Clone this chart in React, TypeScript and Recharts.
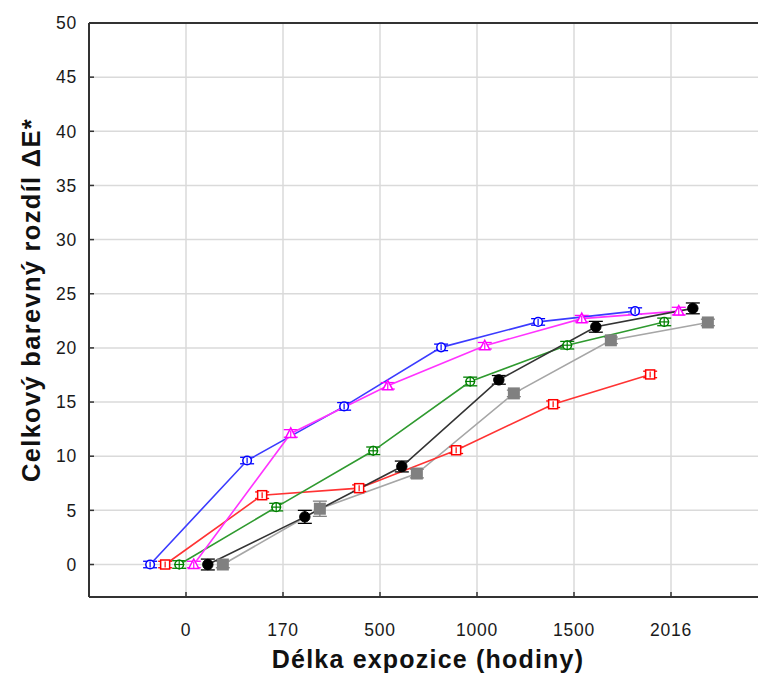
import React from 'react';
import { ComposedChart, Line, XAxis, YAxis, CartesianGrid, ErrorBar } from 'recharts';

const categories = ['0', '170', '500', '1000', '1500', '2016'];
const yTicks = [0, 5, 10, 15, 20, 25, 30, 35, 40, 45, 50];

const blueValues = [0, 9.6, 14.6, 20.05, 22.4, 23.4];
const blueErrors = [0.3, 0.3, 0.35, 0.3, 0.3, 0.3];
const redValues = [0, 6.4, 7.05, 10.55, 14.8, 17.55];
const redErrors = [0.3, 0.3, 0.3, 0.3, 0.3, 0.3];
const greenValues = [0, 5.3, 10.5, 16.9, 20.25, 22.4];
const greenErrors = [0.35, 0.35, 0.35, 0.4, 0.35, 0.35];
const magentaValues = [0, 12.1, 16.5, 20.2, 22.7, 23.4];
const magentaErrors = [0.3, 0.35, 0.3, 0.3, 0.3, 0.35];
const blackValues = [0, 4.4, 9.05, 17.05, 21.95, 23.65];
const blackErrors = [0.5, 0.6, 0.5, 0.4, 0.5, 0.5];
const grayValues = [0, 5.15, 8.4, 15.8, 20.7, 22.35];
const grayErrors = [0.3, 0.7, 0.4, 0.3, 0.3, 0.3];

const FONT = '"Liberation Sans", Arial, sans-serif';

const build = (values: number[], errs: number[], offset: number) =>
  values.map((v, i) => ({ x: i + offset, y: v, err: errs[i] }));

type Kind = 'circle' | 'square' | 'cross' | 'triangle' | 'filledCircle' | 'filledSquare';

const makeDot = (kind: Kind, color: string, name: string) => (props: any) => {
  const { cx, cy, index } = props;
  if (cx == null || cy == null) return <g key={`${name}-${index}`} />;
  const k = `${name}-${index}`;
  switch (kind) {
    case 'circle':
      return (
        <g key={k}>
          <circle cx={cx} cy={cy} r={4.3} fill="#fff" stroke={color} strokeWidth={1.5} />
          <line x1={cx} y1={cy - 3} x2={cx} y2={cy + 3} stroke={color} strokeWidth={1.2} />
        </g>
      );
    case 'square':
      return (
        <g key={k}>
          <rect x={cx - 4.5} y={cy - 4.5} width={9} height={9} fill="#fff" stroke={color} strokeWidth={1.5} />
          <line x1={cx} y1={cy - 3} x2={cx} y2={cy + 3} stroke={color} strokeWidth={1.2} />
        </g>
      );
    case 'cross':
      return (
        <g key={k}>
          <circle cx={cx} cy={cy} r={4.3} fill="#fff" stroke={color} strokeWidth={1.5} />
          <line x1={cx} y1={cy - 5} x2={cx} y2={cy + 5} stroke={color} strokeWidth={1.2} />
          <line x1={cx - 5} y1={cy} x2={cx + 5} y2={cy} stroke={color} strokeWidth={1.2} />
        </g>
      );
    case 'triangle':
      return (
        <g key={k}>
          <polygon
            points={`${cx},${cy - 5.5} ${cx + 5},${cy + 4} ${cx - 5},${cy + 4}`}
            fill="#fff"
            stroke={color}
            strokeWidth={1.5}
          />
          <line x1={cx} y1={cy - 3} x2={cx} y2={cy + 4} stroke={color} strokeWidth={1.2} />
        </g>
      );
    case 'filledCircle':
      return <circle key={k} cx={cx} cy={cy} r={5.2} fill={color} stroke={color} strokeWidth={1} />;
    case 'filledSquare':
    default:
      return <rect key={k} x={cx - 6} y={cy - 6} width={12} height={12} fill={color} />;
  }
};

const series = [
  { name: 'gray', values: grayValues, errs: grayErrors, offset: 0.38, line: '#a6a6a6', mark: '#808080', kind: 'filledSquare' as Kind },
  { name: 'red', values: redValues, errs: redErrors, offset: -0.215, line: '#ff3333', mark: '#ff0000', kind: 'square' as Kind },
  { name: 'green', values: greenValues, errs: greenErrors, offset: -0.07, line: '#2f9a2f', mark: '#008000', kind: 'cross' as Kind },
  { name: 'blue', values: blueValues, errs: blueErrors, offset: -0.37, line: '#3b3bff', mark: '#0000ff', kind: 'circle' as Kind },
  { name: 'magenta', values: magentaValues, errs: magentaErrors, offset: 0.08, line: '#ff33ff', mark: '#ff00ff', kind: 'triangle' as Kind },
  { name: 'black', values: blackValues, errs: blackErrors, offset: 0.225, line: '#333333', mark: '#000000', kind: 'filledCircle' as Kind },
];

const tickStyle = { fill: '#1a1a1a', fontSize: 17.5, fontFamily: FONT, letterSpacing: 0.8 };

export default function App() {
  return (
    <div style={{ position: 'absolute', left: 0, top: 0, width: 758, height: 673, overflow: 'hidden', background: '#fff' }}>
      <ComposedChart width={780} height={673} margin={{ top: 22, right: 12, left: 0, bottom: 0 }}>
        <CartesianGrid stroke="#dadada" strokeWidth={1.5} />
        <XAxis
          xAxisId={0}
          type="number"
          dataKey="x"
          domain={[-1, 6]}
          ticks={[0, 1, 2, 3, 4, 5]}
          allowDataOverflow
          height={76}
          tickSize={-5}
          tickMargin={32}
          tickFormatter={(v: number) => categories[v] ?? ''}
          tick={tickStyle}
          axisLine={{ stroke: '#333', strokeWidth: 2 }}
          tickLine={{ stroke: '#333', strokeWidth: 1.5 }}
          label={{
            content: () => (
              <text
                x={428}
                y={668}
                textAnchor="middle"
                fontFamily={FONT}
                fontWeight="bold"
                fontSize={25}
                letterSpacing={1.2}
                fill="#111"
              >
                Délka expozice (hodiny)
              </text>
            ),
          }}
        />
        <XAxis
          xAxisId="top"
          orientation="top"
          type="number"
          dataKey="x"
          domain={[-1, 6]}
          ticks={[0, 1, 2, 3, 4, 5]}
          allowDataOverflow
          height={1}
          tickSize={-5}
          tick={false}
          axisLine={{ stroke: '#333', strokeWidth: 2 }}
          tickLine={{ stroke: '#333', strokeWidth: 1.5 }}
        />
        <YAxis
          type="number"
          domain={[-3, 50]}
          ticks={yTicks}
          allowDataOverflow
          width={89}
          tickSize={-5}
          tickMargin={17}
          tick={tickStyle}
          axisLine={{ stroke: '#333', strokeWidth: 2 }}
          tickLine={{ stroke: '#333', strokeWidth: 1.5 }}
          label={{
            content: () => (
              <text
                x={31}
                y={300}
                transform="rotate(-90, 31, 300)"
                textAnchor="middle"
                dominantBaseline="central"
                fontFamily={FONT}
                fontWeight="bold"
                fontSize={25.5}
                letterSpacing={1.3}
                fill="#111"
              >
                Celkový barevný rozdíl ΔE*
              </text>
            ),
          }}
        />
        {series.map((s) => (
          <Line
            key={s.name}
            data={build(s.values, s.errs, s.offset)}
            dataKey="y"
            type="linear"
            stroke={s.line}
            strokeWidth={1.6}
            isAnimationActive={false}
            dot={makeDot(s.kind, s.mark, s.name)}
            activeDot={false}
          >
            <ErrorBar dataKey="err" direction="y" width={7} stroke={s.mark} strokeWidth={1.3} />
          </Line>
        ))}
      </ComposedChart>
    </div>
  );
}
